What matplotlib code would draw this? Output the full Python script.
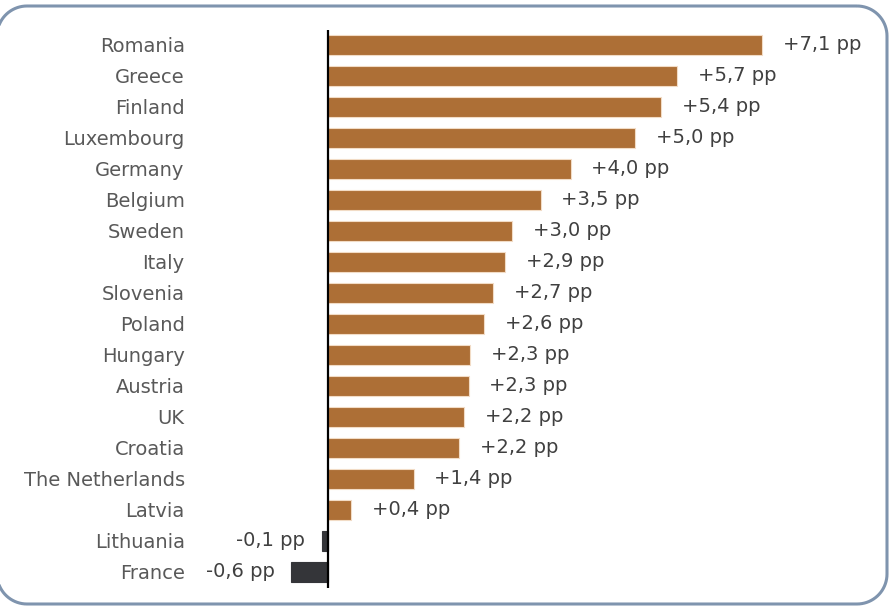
import matplotlib
matplotlib.use('Agg')
import numpy as np
import matplotlib.pyplot as plt
from matplotlib.patches import Polygon

countries = ['Romania', 'Greece', 'Finland', 'Luxembourg', 'Germany', 'Belgium',
             'Sweden', 'Italy', 'Slovenia', 'Poland', 'Hungary', 'Austria', 'UK',
             'Croatia', 'The Netherlands', 'Latvia', 'Lithuania', 'France']
change_pp = [7.1, 5.7, 5.4, 5.0, 4.0, 3.5, 3.0, 2.9, 2.7, 2.6, 2.3, 2.3, 2.2,
             2.2, 1.4, 0.4, -0.1, -0.6]
# bar lengths as drawn (labels are rounded)
bar_len = [7.1, 5.72, 5.45, 5.02, 3.97, 3.48, 3.01, 2.9, 2.7, 2.56, 2.32, 2.3, 2.23,
           2.15, 1.4, 0.38, -0.1, -0.6]

W, H = 892, 606
fig = plt.figure(figsize=(W / 100, H / 100), dpi=100)


def rounded_rect(x0, y0, x1, y1, r, n=20):
    # outline of a rounded rectangle in pixel coords (y down)
    pts = []
    corners = [(x1 - r, y0 + r, -90, 0), (x1 - r, y1 - r, 0, 90),
               (x0 + r, y1 - r, 90, 180), (x0 + r, y0 + r, 180, 270)]
    for cx, cy, a0, a1 in corners:
        t = np.radians(np.linspace(a0, a1, n))
        pts += list(zip(cx + r * np.cos(t), cy + r * np.sin(t)))
    return pts


# background axes in pixel units for the rounded frame
bg = fig.add_axes([0, 0, 1, 1])
bg.set_xlim(0, W)
bg.set_ylim(H, 0)
bg.axis('off')
bg.add_patch(Polygon(rounded_rect(-3, 6, 887, 604, 30), closed=True,
                     facecolor='none', edgecolor='#7f94ae', linewidth=2.2))

# axes: x=0 at 328 px, 61.1 px per pp
px = 61.1
left, right = 200, 885
top, bottom = 30, 588
ax = fig.add_axes([left / W, 1 - bottom / H, (right - left) / W, (bottom - top) / H])
ax.set_xlim((left - 328) / px, (right - 328) / px)
ax.set_ylim(17.52, -0.48)

ypos = list(range(len(countries)))
colors = ['#ad6f36' if v > 0 else '#343539' for v in change_pp]
edges = ['#f2dcc6' if v > 0 else '#343539' for v in change_pp]
ax.barh(ypos, bar_len, height=0.64, color=colors, edgecolor=edges, linewidth=0.8)
ax.axvline(0, color='black', linewidth=1.6)

for y, v, b in zip(ypos, change_pp, bar_len):
    txt = f'{v:+.1f} pp'.replace('.', ',')
    if v > 0:
        ax.annotate(txt, (b, y), xytext=(15, 0), textcoords='offset points',
                    ha='left', va='center', fontsize=14, color='#404040')
    else:
        ax.annotate(txt, (b, y), xytext=(-12, 0), textcoords='offset points',
                    ha='right', va='center', fontsize=14, color='#404040')

ax.set_yticks(ypos)
ax.set_yticklabels(countries, fontsize=14, color='#595959')
ax.tick_params(axis='y', length=0, pad=11)
ax.set_xticks([])
for s in ax.spines.values():
    s.set_visible(False)
ax.patch.set_alpha(0)

fig.savefig('out.png', dpi=100)
